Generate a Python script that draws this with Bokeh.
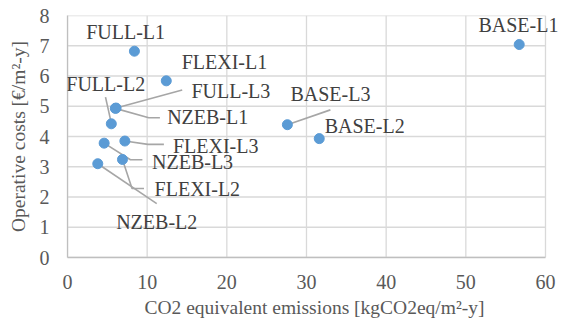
from bokeh.plotting import figure
from bokeh.models import ColumnDataSource, FixedTicker, LabelSet
from bokeh.core.properties import value
from bokeh.embed import file_html
from bokeh.resources import INLINE

# Data
names = ["FULL-L1", "FLEXI-L1", "FULL-L3", "NZEB-L1", "FULL-L2", "FLEXI-L3",
         "NZEB-L3", "FLEXI-L2", "NZEB-L2", "BASE-L1", "BASE-L3", "BASE-L2"]
emissions = [8.4, 12.4, 6.1, 6.0, 5.5, 7.2, 4.6, 6.9, 3.8, 56.7, 27.6, 31.6]
costs = [6.82, 5.84, 4.94, 4.93, 4.42, 3.85, 3.78, 3.24, 3.10, 7.04, 4.39, 3.93]

x_ticks = [0, 10, 20, 30, 40, 50, 60]
y_ticks = [0, 1, 2, 3, 4, 5, 6, 7, 8]

# Label placement (data units)
label_x = [7.3, 19.7, 20.5, 17.6, 4.8, 18.6, 15.7, 16.3, 11.2, 56.6, 33.0, 37.3]
label_y = [7.44, 6.45, 5.49, 4.63, 5.75, 3.67, 3.17, 2.28, 1.16, 7.67, 5.39, 4.36]

# Leader lines (data units)
leader_xs = [[6.1, 14.4], [6.0, 10.2, 11.6], [4.77, 5.45], [7.2, 10.1, 12.1],
             [4.6, 7.9, 9.4], [6.9, 8.1, 9.6], [3.8, 11.2], [27.6, 33.0]]
leader_ys = [[4.94, 5.54], [4.93, 4.62, 4.62], [5.30, 4.50], [3.85, 3.74, 3.74],
             [3.78, 3.23, 3.23], [3.24, 2.28, 2.28], [3.10, 1.78], [4.39, 4.88]]

FONT = "Liberation Serif, Times New Roman, serif"
TXT = "#404040"
GRID = "#d9d9d9"

W, H = 561, 332
LEFT, TOP, BOTTOM = 67, 15, 75
PLOT_RIGHT_PX = 545          # where the 60 gridline sits
xmin, xmax = x_ticks[0], x_ticks[-1]
ymin, ymax = y_ticks[0], y_ticks[-1]
# extend frame to the canvas edge so outside labels are not clipped
x_end = xmax * (W - LEFT) / (PLOT_RIGHT_PX - LEFT)

p = figure(width=W, height=H, output_backend="svg", toolbar_location=None,
           x_range=(xmin, x_end), y_range=(ymin, ymax),
           min_border_left=LEFT, min_border_right=0, min_border_top=TOP,
           min_border_bottom=BOTTOM)
p.outline_line_color = None
p.background_fill_color = "white"
p.border_fill_color = "white"
p.grid.visible = False

# manual grid limited to the data area
p.segment(x0=x_ticks, x1=x_ticks, y0=[ymin] * len(x_ticks), y1=[ymax] * len(x_ticks),
          line_color=GRID, line_width=1.3)
p.segment(x0=[xmin] * len(y_ticks), x1=[xmax] * len(y_ticks), y0=y_ticks, y1=y_ticks,
          line_color=GRID, line_width=1.3)

p.xaxis.ticker = FixedTicker(ticks=x_ticks)
p.yaxis.ticker = FixedTicker(ticks=y_ticks)
p.xaxis.bounds = (xmin, xmax)

for ax in (p.xaxis, p.yaxis):
    ax.axis_line_color = "#bfbfbf"
    ax.axis_line_width = 1.3
    ax.major_tick_line_color = None
    ax.minor_tick_line_color = None
    ax.major_tick_out = 0
    ax.major_tick_in = 0
    ax.minor_tick_out = 0
    ax.major_label_text_font = FONT
    ax.major_label_text_font_size = "20px"
    ax.major_label_text_color = "#595959"
    ax.axis_label_text_font = FONT
    ax.axis_label_text_font_size = "19.5px"
    ax.axis_label_text_font_style = "normal"
    ax.axis_label_text_color = "#595959"

p.xaxis.axis_label = "CO2 equivalent emissions [kgCO2eq/m²-y]"
p.yaxis.axis_label = "Operative costs [€/m²-y]"
p.xaxis.major_label_standoff = 17
p.yaxis.major_label_standoff = 18
p.xaxis.axis_label_standoff = 5
p.yaxis.axis_label_standoff = 8

p.multi_line(xs=leader_xs, ys=leader_ys, line_color="#a6a6a6", line_width=1.6)

src = ColumnDataSource(dict(x=emissions, y=costs))
p.scatter("x", "y", source=src, size=10, fill_color="#5b9bd5", line_color="#5b9bd5")

lsrc = ColumnDataSource(dict(x=label_x, y=label_y, t=names))
labels = LabelSet(x="x", y="y", text="t", source=lsrc, text_font=value(FONT),
                  text_font_size="20px", text_color=TXT, text_align="center",
                  text_baseline="middle")
p.add_layout(labels)

open("out.html", "w").write(file_html(p, INLINE))
